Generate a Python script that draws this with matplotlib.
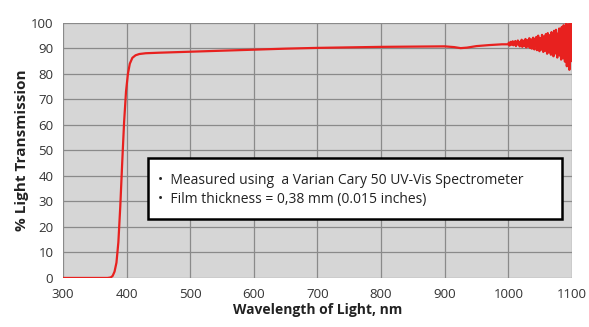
import matplotlib.pyplot as plt
from matplotlib.patches import Rectangle

# Curva de transmissão (lida a partir da imagem)
wl_smooth = [300, 370, 375, 378, 381, 384, 387, 390, 393, 396, 399, 402, 405, 409, 414,
             420, 430, 450, 500, 550, 600, 650, 700, 750, 800, 850, 900, 915, 925, 935,
             950, 970, 990]
tr_smooth = [0, 0, 0.2, 0.8, 2.5, 6, 14, 28, 45, 61, 73, 80, 84, 86.3, 87.3,
             87.8, 88.1, 88.3, 88.7, 89.1, 89.5, 89.9, 90.2, 90.4, 90.6, 90.7, 90.8, 90.5, 90.1, 90.3,
             90.9, 91.3, 91.6]

# Região ruidosa, 1000 a 1100 nm, passo de 1 nm
wl_noisy = list(range(1000, 1101))
tr_noisy = [91.6, 92.3, 91.1, 92.0, 92.6, 91.4, 91.9, 92.8, 91.2, 92.1,
            91.7, 92.9, 90.9, 92.4, 91.8, 93.1, 91.3, 92.2, 90.8, 92.7,
            91.5, 93.4, 90.6, 92.0, 93.0, 90.9, 92.6, 93.7, 90.4, 91.8,
            93.2, 90.7, 92.9, 94.0, 90.2, 91.6, 93.5, 89.9, 92.3, 94.2,
            90.5, 89.6, 93.8, 91.2, 94.5, 89.3, 92.7, 95.0, 90.1, 88.9,
            94.1, 92.0, 89.5, 95.3, 91.0, 88.6, 94.7, 92.4, 89.1, 95.6,
            90.3, 87.9, 96.0, 91.6, 88.4, 95.2, 93.0, 87.5, 96.4, 89.8,
            92.8, 86.9, 96.9, 90.7, 88.0, 97.3, 93.5, 86.4, 95.8, 89.2,
            97.8, 87.2, 92.0, 85.6, 98.4, 90.3, 86.1, 99.1, 94.0, 84.8,
            97.2, 100.0, 83.0, 95.5, 88.4, 99.5, 81.6, 93.8, 99.8, 85.0, 90.5]

x_ticks = list(range(300, 1101, 100))
y_ticks = list(range(0, 101, 10))

notes = ["\u2022  Measured using  a Varian Cary 50 UV-Vis Spectrometer",
         "\u2022  Film thickness = 0,38 mm (0.015 inches)"]

plt.rcParams['font.family'] = ['Open Sans', 'DejaVu Sans']

fig = plt.figure(figsize=(5.89, 3.27), dpi=100)
ax = fig.add_axes([0.107, 0.150, 0.864, 0.780])
ax.set_facecolor('#d6d6d6')

ax.plot(wl_smooth + wl_noisy, tr_smooth + tr_noisy, color='#e8211f', lw=1.6)

ax.set_xlim(300, 1100)
ax.set_ylim(0, 100)
ax.set_xticks(x_ticks)
ax.set_yticks(y_ticks)
ax.grid(True, color='#8a8a8a', lw=0.9)
ax.set_axisbelow(True)
for s in ax.spines.values():
    s.set_visible(False)
ax.tick_params(length=0, labelsize=9.5, labelcolor='#333333')
ax.tick_params(axis='x', pad=7)
ax.tick_params(axis='y', pad=7)

ax.set_xlabel('Wavelength of Light, nm', fontsize=10, fontweight='bold', color='#222222', labelpad=2)
ax.set_ylabel('% Light Transmission', fontsize=11, fontweight='bold', color='#222222', labelpad=1)

# Caixa de notas
box = Rectangle((0.167, 0.231), 0.813, 0.240, transform=ax.transAxes,
                facecolor='white', edgecolor='black', lw=1.8, zorder=5)
ax.add_patch(box)
ax.text(0.187, 0.384, notes[0], transform=ax.transAxes, fontsize=10, color='#222222',
        va='center', ha='left', zorder=6)
ax.text(0.187, 0.306, notes[1], transform=ax.transAxes, fontsize=10, color='#222222',
        va='center', ha='left', zorder=6)

fig.savefig('out.png', dpi=100)
